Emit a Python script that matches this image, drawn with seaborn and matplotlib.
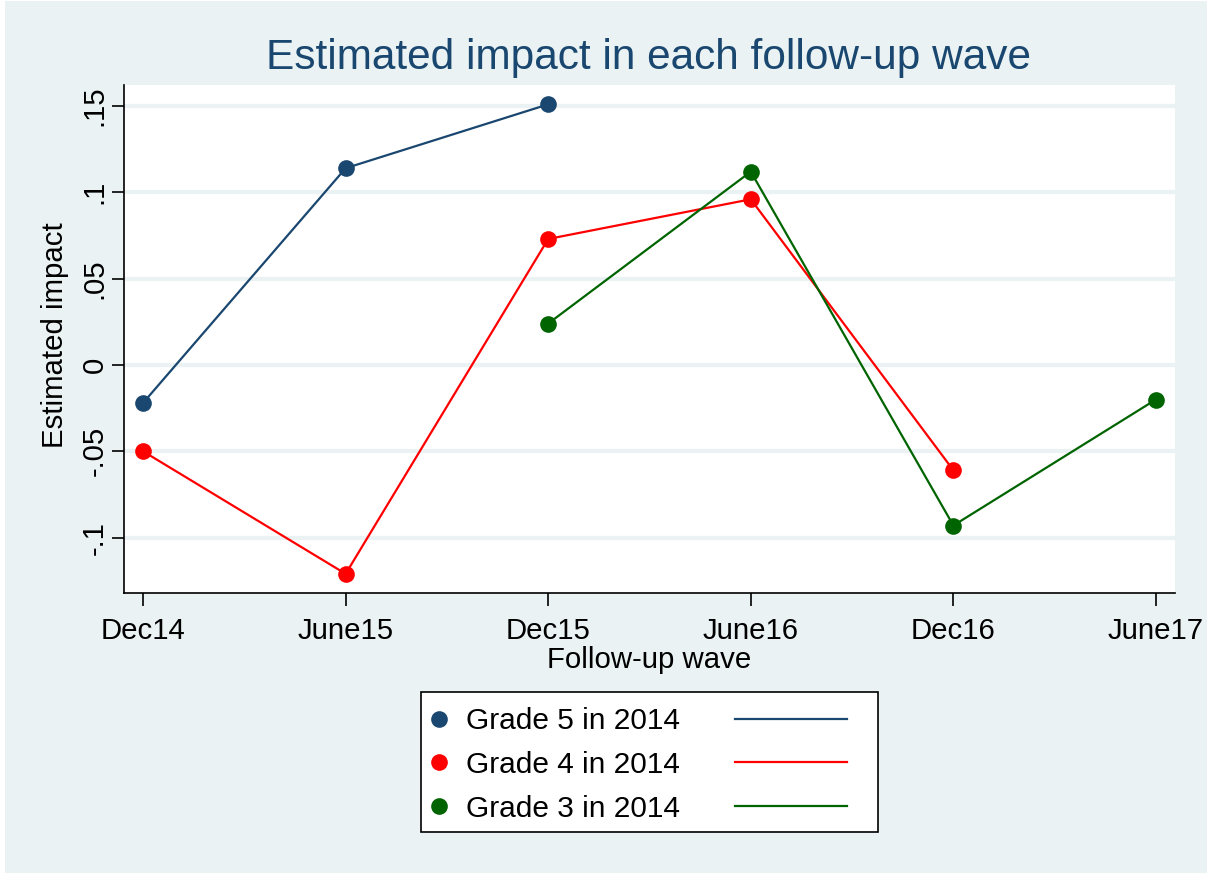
import numpy as np
import pandas as pd
import matplotlib
matplotlib.use("Agg")
import matplotlib.pyplot as plt
import seaborn as sns
from matplotlib.lines import Line2D
from matplotlib.patches import Rectangle
from matplotlib.legend_handler import HandlerLine2D

# ---- data ----
waves = ["Dec14", "June15", "Dec15", "June16", "Dec16", "June17"]
grade5_waves = ["Dec14", "June15", "Dec15"]
grade5_vals = [-0.022, 0.114, 0.151]
grade4_waves = ["Dec14", "June15", "Dec15", "June16", "Dec16"]
grade4_vals = [-0.050, -0.121, 0.073, 0.096, -0.061]
grade3_waves = ["Dec15", "June16", "Dec16", "June17"]
grade3_vals = [0.024, 0.112, -0.093, -0.020]
series_names = ["Grade 5 in 2014", "Grade 4 in 2014", "Grade 3 in 2014"]
series_colors = ["#1a476f", "#ff0000", "#006400"]
y_ticks = [-0.1, -0.05, 0, 0.05, 0.1, 0.15]
y_ticklabels = ["-.1", "-.05", "0", ".05", ".1", ".15"]

rows = []
for name, wl, vl in zip(series_names, [grade5_waves, grade4_waves, grade3_waves],
                        [grade5_vals, grade4_vals, grade3_vals]):
    for w, v in zip(wl, vl):
        rows.append({"group": name, "wave": waves.index(w), "impact": v})
df = pd.DataFrame(rows)

BG = "#eaf2f3"
FS = 21.2
W, H = 1219, 873
plt.rcParams["font.family"] = ["Liberation Sans", "DejaVu Sans"]
fig = plt.figure(figsize=(W / 100, H / 100), dpi=100, facecolor="white")

fig.patches.append(Rectangle((5 / W, 0), (1207 - 5) / W, 872 / H,
                             transform=fig.transFigure, facecolor=BG,
                             edgecolor="none", zorder=-10))

ax = fig.add_axes([124 / W, (H - 593) / H, (1175 - 124) / W, (593 - 85) / H])
ax.set_facecolor("white")

pal = dict(zip(series_names, series_colors))
sns.lineplot(data=df, x="wave", y="impact", hue="group", hue_order=series_names,
             palette=pal, marker="o", markersize=12, markeredgewidth=0,
             linewidth=1.6, legend=False, ax=ax, sort=True, zorder=3)

ax.set_xlim(-0.094, 5.094)
ax.set_ylim(-0.1321, 0.1622)
ax.set_yticks(y_ticks)
ax.set_yticklabels(y_ticklabels, rotation=90, va="center")
ax.set_xticks(range(len(waves)))
ax.set_xticklabels(waves)
ax.tick_params(axis="both", labelsize=FS, length=9, width=1.2, color="black",
               labelcolor="black")
ax.tick_params(axis="x", pad=8)
ax.tick_params(axis="y", pad=2)
for yt in y_ticks:
    ax.axhline(yt, color=BG, linewidth=3, zorder=1)
for s in ["top", "right"]:
    ax.spines[s].set_visible(False)
for s in ["left", "bottom"]:
    ax.spines[s].set_linewidth(1.2)
    ax.spines[s].set_color("black")

ax.set_xlabel("")
ax.set_ylabel("")
fig.text(649 / W, 1 - 660 / H, "Follow-up wave", ha="center", va="center",
         fontsize=FS, color="black")
fig.text(55 / W, 1 - 335 / H, "Estimated impact", ha="center", va="center",
         rotation=90, fontsize=FS, color="black")
fig.text(649 / W, 1 - 58 / H, "Estimated impact in each follow-up wave",
         ha="center", va="center", fontsize=30.5, color="#1a476f")

# ---- legend ----
class LongLine(HandlerLine2D):
    def get_xdata(self, legend, xdescent, ydescent, width, height, fontsize):
        return [-xdescent, -xdescent + 4.16 * width], [-xdescent + 2.08 * width]

LFS = 21.5
marker_handles = [Line2D([], [], linestyle="none", marker="o", markersize=12,
                         markeredgewidth=0, color=c) for c in series_colors]
line_handles = [Line2D([], [], linewidth=1.6, color=c) for c in series_colors]
hmap = {h: LongLine() for h in line_handles}
fig.patches.append(Rectangle((421 / W, 1 - 832 / H), (878 - 421) / W, (832 - 692) / H,
                             transform=fig.transFigure, facecolor="white",
                             edgecolor="black", linewidth=1.2, zorder=-5))
leg = fig.legend(marker_handles + line_handles, series_names + ["", "", ""],
                 ncol=2, loc="upper left",
                 bbox_to_anchor=(426 / W, 1 - 707 / H),
                 frameon=False, fontsize=LFS, handlelength=0.9,
                 handletextpad=0.44, columnspacing=1.84, labelspacing=0.53,
                 borderpad=0, borderaxespad=0, handler_map=hmap)

fig.savefig("out.png", dpi=100, facecolor="white")
